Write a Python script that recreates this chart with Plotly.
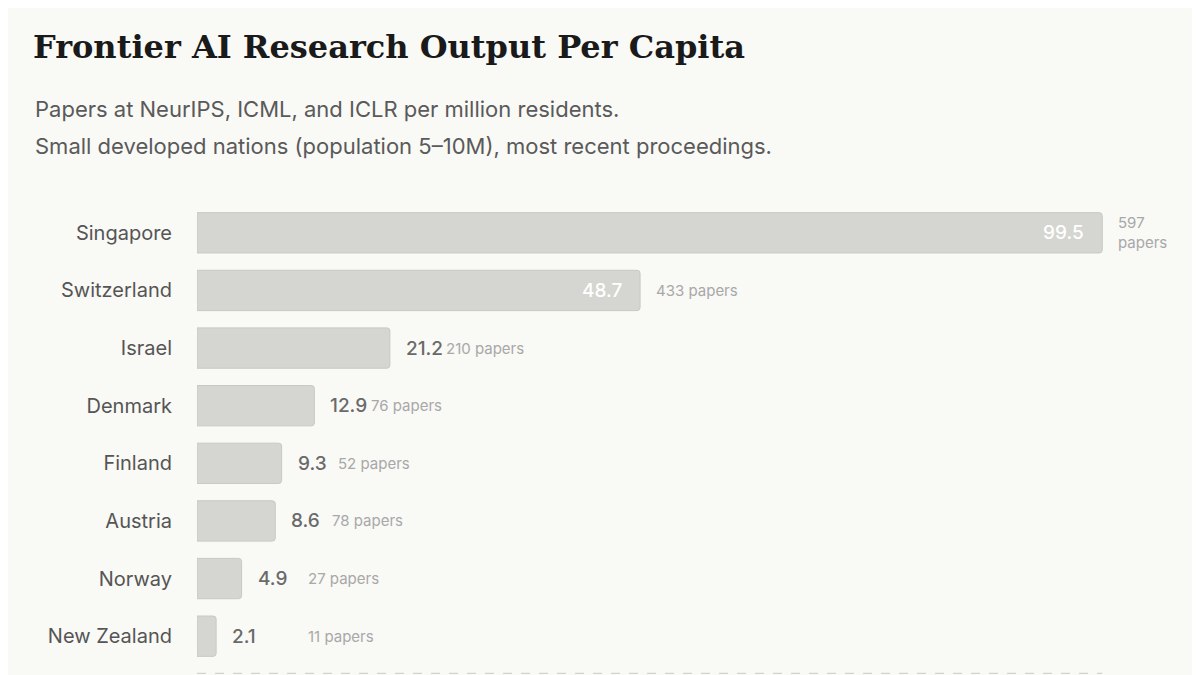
import plotly.graph_objects as go

countries = ["Singapore", "Switzerland", "Israel", "Denmark", "Finland", "Austria", "Norway", "New Zealand"]
per_million = [99.5, 48.7, 21.2, 12.9, 9.3, 8.6, 4.9, 2.1]
papers = [597, 433, 210, 76, 52, 78, 27, 11]

inside = [v > 40 for v in per_million]

# page body has an 8px margin, so the figure is sized and offset to compensate
W, H, OFF = 1192, 667, 8

fig = go.Figure(go.Bar(
    x=per_million, y=countries, orientation="h", width=0.7,
    marker=dict(color="#d5d5d1", line=dict(color="#c8c8c4", width=1), cornerradius=3),
    hoverinfo="skip",
))

for c, v, p, ins in zip(countries, per_million, papers, inside):
    if ins:
        fig.add_annotation(x=v, y=c, text=v, showarrow=False, xanchor="right",
                           xshift=-16, font=dict(size=19, color="white", family="Inter", weight=500))
        txt = f"{p}<br>papers" if v > 90 else f"{p} papers"
        fig.add_annotation(x=v, y=c, text=txt, showarrow=False, xanchor="left", align="left",
                           xshift=14, font=dict(size=15, color="#a8a8a8", family="Inter"))
    else:
        fig.add_annotation(x=v, y=c, text=v, showarrow=False, xanchor="left",
                           xshift=14, font=dict(size=19, color="#6a6a6a", family="Inter", weight=500))
        fig.add_annotation(x=max(v + 6, 12), y=c, text=f"{p} papers", showarrow=False,
                           xanchor="left", font=dict(size=15, color="#a8a8a8", family="Inter"))

fig.add_shape(type="line", xref="x", yref="paper", x0=0, x1=99.5, y0=-0.018, y1=-0.018,
              line=dict(color="#c8c8c8", width=1, dash="dash"))

for i, line in enumerate(["Papers at NeurIPS, ICML, and ICLR per million residents.",
                          "Small developed nations (population 5–10M), most recent proceedings."]):
    fig.add_annotation(xref="paper", yref="paper", x=-(197 - 33) / 908, xanchor="left",
                       y=1 + (196 - (102 + 37 * i)) / 454, yanchor="middle", text=line, showarrow=False,
                       font=dict(family="Inter", size=22, color="#5a5a5a"))

fig.update_layout(
    width=W, height=H,
    paper_bgcolor="#f9f9f6", plot_bgcolor="#f9f9f6",
    margin=dict(l=197 - OFF, r=95, t=204 - OFF, b=18 - OFF),
    showlegend=False,
    title=dict(text="<b>Frontier AI Research Output Per Capita</b>", x=(33 - OFF) / W, xanchor="left",
               y=1 - (47 - OFF) / H, yanchor="middle",
               font=dict(family="DejaVu Serif", size=32, color="#1a1a1a")),
    xaxis=dict(range=[0, 99.8], visible=False, fixedrange=True),
    yaxis=dict(autorange="reversed", showgrid=False, zeroline=False, ticks="", ticklabelstandoff=24,
               tickfont=dict(family="Inter", size=20, color="#555555")),
)

fig.write_html("out.html")
